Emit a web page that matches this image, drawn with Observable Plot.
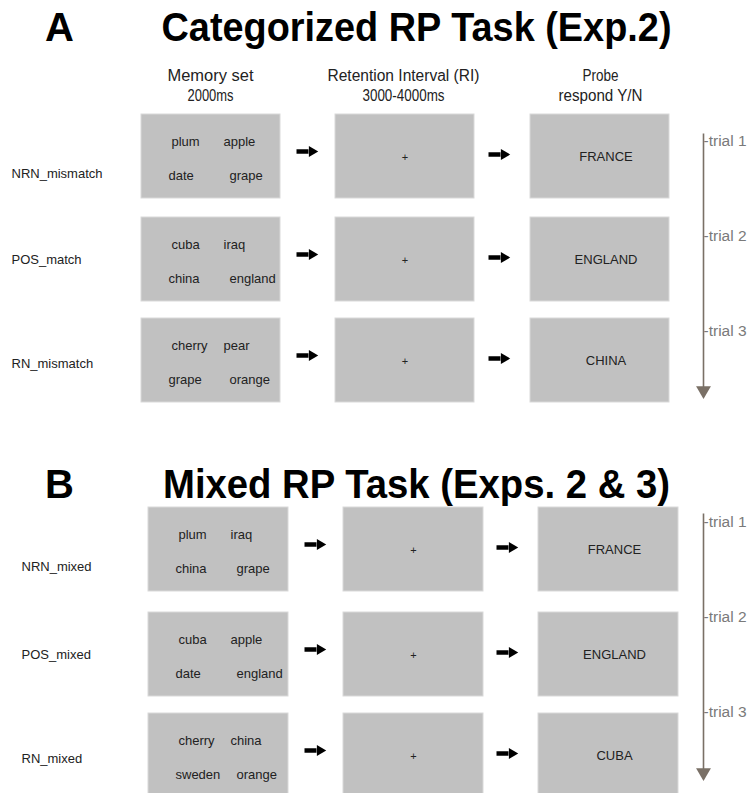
<!DOCTYPE html>
<html>
<head>
<meta charset="utf-8">
<script src="https://cdn.jsdelivr.net/npm/d3@7"></script>
<script src="https://cdn.jsdelivr.net/npm/@observablehq/plot@0.6"></script>
<style>
  html, body { margin: 0; padding: 0; background: #fff; }
  #chart svg { display: block; }
</style>
</head>
<body>
<div id="chart"></div>
<script>
// ---- data ----
const panelLetters = ["A", "B"];
const panelTitles = ["Categorized RP Task (Exp.2)", "Mixed RP Task (Exps. 2 & 3)"];
const headerLines = [["Memory set", "2000ms"], ["Retention Interval (RI)", "3000-4000ms"], ["Probe", "respond Y/N"]];
const conditions = [["NRN_mismatch", "POS_match", "RN_mismatch"], ["NRN_mixed", "POS_mixed", "RN_mixed"]];
const memorySets = [
  [["plum", "apple", "date", "grape"], ["cuba", "iraq", "china", "england"], ["cherry", "pear", "grape", "orange"]],
  [["plum", "iraq", "china", "grape"], ["cuba", "apple", "date", "england"], ["cherry", "china", "sweden", "orange"]]
];
const fixation = "+";
const probes = [["FRANCE", "ENGLAND", "CHINA"], ["FRANCE", "ENGLAND", "CUBA"]];
const trialLabels = ["-trial 1", "-trial 2", "-trial 3"];

// ---- layout ----
const W = 752, H = 793;
const layout = [
  {titleY: 40, headerY: [75, 95], rowTop: [114, 217, 318], colLeft: [141, 335, 530], boxW: 139, boxH: 84,
   arrowX: [296, 488], labelX: 11, trialTop: 133, trialTip: 395, trialY0: 141},
  {titleY: 497, headerY: null, rowTop: [507, 612, 713], colLeft: [148, 343, 538], boxW: 140, boxH: 84,
   arrowX: [304, 496], labelX: 21, trialTop: 513, trialTip: 777, trialY0: 522}
];
const labelDy = [17, 0, 3];
const wordOffsets = [[30, 27], [82, 27], [27, 61], [88, 61]];
const trialX = 703;
const trialSpacing = 95;

const boxes = [], words = [], centers = [], labels = [], arrows = [], trials = [], trialLines = [], heads = [];
panelLetters.forEach((p, pi) => {
  const L = layout[pi];
  L.rowTop.forEach((top, ri) => {
    L.colLeft.forEach((left, ci) => {
      boxes.push({x1: left, x2: left + L.boxW, y1: top, y2: top + L.boxH});
    });
    memorySets[pi][ri].forEach((w, wi) => {
      words.push({x: L.colLeft[0] + wordOffsets[wi][0], y: top + wordOffsets[wi][1], text: w});
    });
    const cy = top + L.boxH / 2;
    centers.push({x: L.colLeft[1] + L.boxW / 2, y: cy + 1, text: fixation, size: 11});
    centers.push({x: L.colLeft[2] + L.boxW / 2 + 6, y: cy, text: probes[pi][ri], size: 13});
    labels.push({x: L.labelX, y: cy + labelDy[ri], text: conditions[pi][ri]});
    L.arrowX.forEach((ax, ai) => {
      arrows.push({x1: ax, x2: ax + 12, y: cy - (ai === 0 ? 5 : 2), hx: ax + 15.5});
    });
    trials.push({x: trialX, y: L.trialY0 + ri * trialSpacing, text: trialLabels[ri]});
  });
  trialLines.push({x: trialX, y1: L.trialTop, y2: L.trialTip - 8});
  heads.push({x: trialX, y: L.trialTip - 5});
});

const titleTexts = panelTitles.map((t, i) => ({x: 416, y: layout[i].titleY, text: t}));
const letterTexts = panelLetters.map((t, i) => ({x: 59, y: layout[i].titleY, text: t}));
const headerX = [210, 403, 600];
const headerTexts = [];
headerLines.forEach((lines, i) => lines.forEach((t, j) => headerTexts.push({x: headerX[i], y: layout[0].headerY[j], text: t})));

const chart = Plot.plot({
  width: W, height: H,
  margin: 0,
  x: {domain: [0, W], range: [0, W], axis: null},
  y: {domain: [0, H], range: [0, H], axis: null},
  style: {fontFamily: "'Liberation Sans', Arial, Helvetica, sans-serif", background: "#fff"},
  marks: [
    Plot.rect(boxes, {x1: "x1", x2: "x2", y1: "y1", y2: "y2", fill: "#c1c1c1", stroke: "#d9d9d9", strokeWidth: 1}),
    Plot.text(words, {x: "x", y: "y", text: "text", textAnchor: "start", fontSize: 13, fill: "#222"}),
    Plot.text(centers, {x: "x", y: "y", text: "text", fontSize: d => d.size, fill: "#222"}),
    Plot.text(labels, {x: "x", y: "y", text: "text", textAnchor: "start", fontSize: 13, fill: "#222"}),
    Plot.link(arrows, {x1: "x1", x2: "x2", y1: "y", y2: "y", stroke: "#000", strokeWidth: 4.5}),
    Plot.dot(arrows, {x: "hx", y: "y", symbol: "triangle", rotate: 90, r: 4, fill: "#000"}),
    Plot.link(trialLines, {x1: "x", x2: "x", y1: "y1", y2: "y2", stroke: "#7a7066", strokeWidth: 1.6}),
    Plot.dot(heads, {x: "x", y: "y", symbol: "triangle", rotate: 180, r: 5.5, fill: "#7a7066"}),
    Plot.text(trials, {x: "x", y: "y", text: "text", textAnchor: "start", fontSize: 15.5, fill: "#7a7a7a"}),
    Plot.text(headerTexts, {x: "x", y: "y", text: "text", fontSize: 16, fill: "#222"}),
    Plot.text(titleTexts, {x: "x", y: "y", text: "text", fontSize: 40, fontWeight: "bold", fill: "#000", lineAnchor: "bottom"}),
    Plot.text(letterTexts, {x: "x", y: "y", text: "text", fontSize: 40, fontWeight: "bold", fill: "#000", lineAnchor: "bottom"})
  ]
});

// condensed look: fit titles and headers to their measured widths
const fitWidths = new Map([
  [panelTitles[0], 510], [panelTitles[1], 507],
  ["Memory set", 86], ["2000ms", 46], ["Retention Interval (RI)", 152], ["3000-4000ms", 82],
  ["Probe", 36], ["respond Y/N", 84]
]);
chart.querySelectorAll("text").forEach(t => {
  const s = t.textContent;
  if (fitWidths.has(s)) {
    t.setAttribute("textLength", fitWidths.get(s));
    t.setAttribute("lengthAdjust", "spacingAndGlyphs");
  }
});
document.getElementById("chart").appendChild(chart);
</script>
</body>
</html>
